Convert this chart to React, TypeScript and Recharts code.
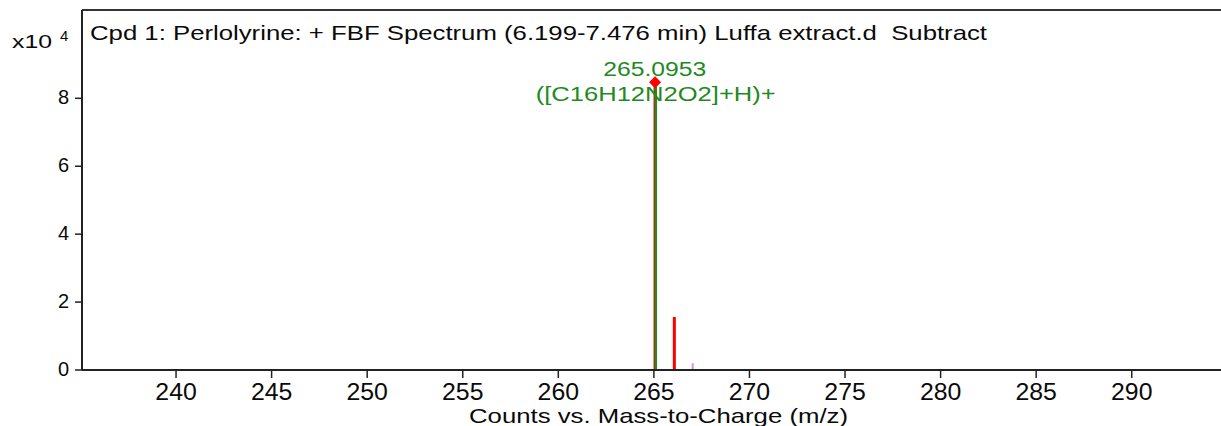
import { ComposedChart, Line, Scatter, XAxis, YAxis, ReferenceLine } from 'recharts'

// m/z window and intensity window (x10^4 counts)
const mzDomain = [235.08, 294.67]
const countsDomain = [0, 10.6]
const xTicks = [240, 245, 250, 255, 260, 265, 270, 275, 280, 285, 290]
const yTicks = [0, 2, 4, 6, 8]

// spectrum sticks
const greenMz = [265.0953]
const greenCounts = [8.42]
const redMz = [265.06, 266.07]
const redCounts = [8.47, 1.56]
const pinkMz = [267.03]
const pinkCounts = [0.2]

const peakLabel = '265.0953'
const peakFormula = '([C16H12N2O2]+H)+'
const title = 'Cpd 1: Perlolyrine: + FBF Spectrum (6.199-7.476 min) Luffa extract.d\u00a0\u00a0Subtract'

const FONT = '"Liberation Sans", Arial, sans-serif'
const GREEN = '#1f8a1f'
const RED = '#ff0000'
const PINK = '#d58fe0'
const INK = '#0a0a0a'

const stick = (mz: number, counts: number) => [
  { mz, counts: 0 },
  { mz, counts },
]

const XTick = ({ x, y, payload }: any) => (
  <g transform={`translate(${x},${y})`}>
    <text
      x={0}
      y={20}
      textAnchor="middle"
      fontSize={23}
      fontFamily={FONT}
      fill={INK}
      transform="scale(1.08,1)"
    >
      {payload.value}
    </text>
  </g>
)

const YTick = ({ x, y, payload }: any) => (
  <text x={x - 4} y={y + 6} textAnchor="end" fontSize={20} fontFamily={FONT} fill={INK}>
    {payload.value}
  </text>
)

const TitleLabel = ({ viewBox }: any) => (
  <text
    x={viewBox.x + 8}
    y={viewBox.y + 30}
    fontSize={21}
    fontFamily={FONT}
    fill={INK}
    textLength={897}
    lengthAdjust="spacingAndGlyphs"
  >
    {title}
  </text>
)

const ScaleLabel = ({ viewBox }: any) => (
  <g fontFamily={FONT} fill={INK}>
    <text x={12} y={viewBox.y + 38} fontSize={18} textLength={40} lengthAdjust="spacingAndGlyphs">
      x10
    </text>
    <text x={60} y={viewBox.y + 31} fontSize={15}>
      4
    </text>
  </g>
)

const AxisTitle = ({ viewBox }: any) => (
  <text
    x={viewBox.x + viewBox.width / 2 + 7}
    y={viewBox.y + 53}
    textAnchor="middle"
    fontSize={21}
    fontFamily={FONT}
    fill={INK}
    textLength={379}
    lengthAdjust="spacingAndGlyphs"
  >
    Counts vs. Mass-to-Charge (m/z)
  </text>
)

const Diamond = ({ cx, cy }: any) => (
  <polygon points={`${cx},${cy - 6} ${cx + 6},${cy} ${cx},${cy + 6} ${cx - 6},${cy}`} fill={RED} />
)

const PeakText = ({ cx, cy }: any) => (
  <g fontFamily={FONT} fill={GREEN} fontSize={20}>
    <text x={cx - 1} y={cy - 8} textAnchor="middle" textLength={103} lengthAdjust="spacingAndGlyphs">
      {peakLabel}
    </text>
    <text x={cx} y={cy + 17} textAnchor="middle" textLength={240} lengthAdjust="spacingAndGlyphs">
      {peakFormula}
    </text>
  </g>
)

export default function App() {
  return (
    <div style={{ position: 'absolute', left: 0, top: 0, background: '#fff' }}>
      <ComposedChart width={1221} height={426} margin={{ top: 10, right: 0, bottom: 0, left: 0 }}>
        <XAxis
          type="number"
          dataKey="mz"
          domain={mzDomain}
          ticks={xTicks}
          allowDataOverflow
          height={56}
          tickSize={8}
          axisLine={{ stroke: '#222', strokeWidth: 2 }}
          tickLine={{ stroke: '#222', strokeWidth: 1.5 }}
          tick={<XTick />}
          label={<AxisTitle />}
        />
        <YAxis
          type="number"
          dataKey="counts"
          domain={countsDomain}
          ticks={yTicks}
          allowDataOverflow
          width={82}
          tickSize={7}
          axisLine={{ stroke: '#222', strokeWidth: 2 }}
          tickLine={{ stroke: '#222', strokeWidth: 1.5 }}
          tick={<YTick />}
          label={<ScaleLabel />}
        />
        <ReferenceLine y={countsDomain[1]} stroke="#333" strokeWidth={2} label={<TitleLabel />} />
        {redMz.map((mz, i) => (
          <Line
            key={`r${i}`}
            data={stick(mz, redCounts[i])}
            dataKey="counts"
            stroke={RED}
            strokeWidth={3}
            dot={false}
            isAnimationActive={false}
          />
        ))}
        {pinkMz.map((mz, i) => (
          <Line
            key={`p${i}`}
            data={stick(mz, pinkCounts[i])}
            dataKey="counts"
            stroke={PINK}
            strokeWidth={2}
            dot={false}
            isAnimationActive={false}
          />
        ))}
        {greenMz.map((mz, i) => (
          <Line
            key={`g${i}`}
            data={stick(mz, greenCounts[i])}
            dataKey="counts"
            stroke={GREEN}
            strokeWidth={2.5}
            dot={false}
            isAnimationActive={false}
          />
        ))}
        <Scatter
          data={[{ mz: redMz[0], counts: redCounts[0] }]}
          dataKey="counts"
          shape={<Diamond />}
          isAnimationActive={false}
        />
        <Scatter
          data={[{ mz: greenMz[0], counts: greenCounts[0] }]}
          dataKey="counts"
          shape={<PeakText />}
          isAnimationActive={false}
        />
      </ComposedChart>
    </div>
  )
}
